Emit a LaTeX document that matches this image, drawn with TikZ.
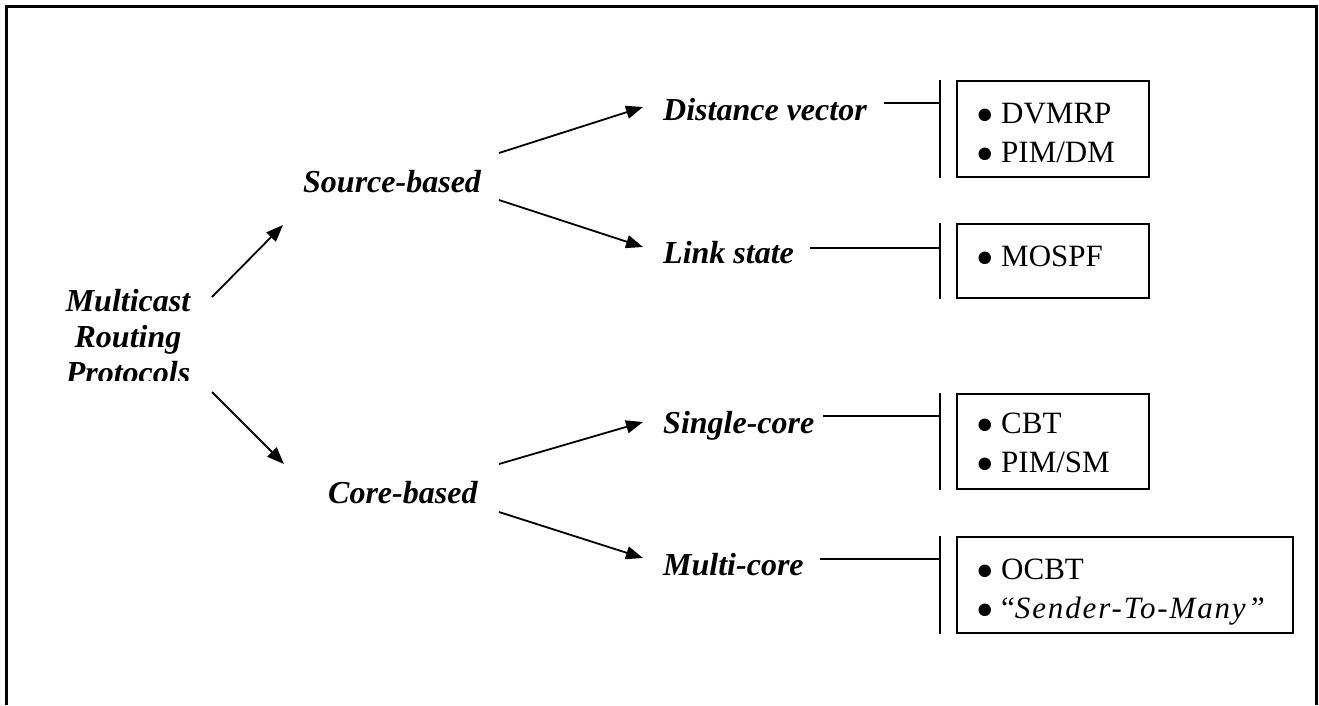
\documentclass[tikz,border=0pt]{standalone}
\usepackage{fontspec}
\setmainfont{Liberation Serif}
\usetikzlibrary{arrows.meta}
% list entry: a round bullet followed by the entry text
\newcommand{\bulletitem}[1]{\makebox[25pt][l]{\fontsize{29}{29}\selectfont●}#1}
\begin{document}
\begin{tikzpicture}[x=1pt,y=-1pt,
  cls/.style={font=\fontsize{32}{36}\selectfont\bfseries\itshape, inner sep=0pt, anchor=base west},
  items/.style={font=\fontsize{31}{39}\selectfont, inner sep=0pt, anchor=base west, align=left},
  arr/.style={line width=1.8pt, -{Triangle[length=17pt,width=13pt]}},
  link/.style={line width=1.8pt},
  bar/.style={line width=1.8pt},
  listbox/.style={draw, line width=2pt, anchor=north west},
  frame/.style={line width=3pt}]
\useasboundingbox (0,0) rectangle (1319,705);
% open frame: left, top and right sides
\draw[frame] (6,705) -- (6,6) -- (1316,6) -- (1316,705);

% root, with the last line cut off just above its baseline
\begin{scope}
  \clip (0,0) rectangle (1319,380);
  \node[cls, anchor=base, align=center] (root) at (128,383)
    {Multicast\\Routing\\Protocols};
\end{scope}
\coordinate (rootA) at (212,297);
\coordinate (rootB) at (212,392);

% second level
\node[cls] (src) at (303,192) {Source-based};
\node[cls] (core) at (328,503) {Core-based};
\coordinate (srcA) at (499,153);
\coordinate (srcB) at (499,200);
\coordinate (coreA) at (499,464);
\coordinate (coreB) at (499,512);

% third level
\node[cls] (dv) at (663,120) {Distance vector};
\node[cls] (ls) at (663,263) {Link state};
\node[cls] (sc) at (663,433) {Single-core};
\node[cls] (mc) at (663,575) {Multi-core};

% arrows
\draw[arr] (rootA) -- (283,225) coordinate (srcIn);
\draw[arr] (rootB) -- (284,464) coordinate (coreIn);
\draw[arr] (srcA) -- (643,107) coordinate (dvIn);
\draw[arr] (srcB) -- (643,247) coordinate (lsIn);
\draw[arr] (coreA) -- (643,422) coordinate (scIn);
\draw[arr] (coreB) -- (643,558) coordinate (mcIn);

% protocol lists (each node is placed by the baseline of its last line)
\node[listbox, minimum width=192pt, minimum height=96pt] (dvbox) at (956,80) {};
\node[listbox, minimum width=192pt, minimum height=74pt] (lsbox) at (956,223) {};
\node[listbox, minimum width=192pt, minimum height=95pt] (scbox) at (956,393) {};
\node[listbox, minimum width=336pt, minimum height=96pt] (mcbox) at (956,536) {};

\node[items] (dvlist) at (976,162) {\bulletitem{DVMRP}\\\bulletitem{PIM/DM}};
\node[items] (lslist) at (976,266) {\bulletitem{MOSPF}};
\node[items] (sclist) at (976,472) {\bulletitem{CBT}\\\bulletitem{PIM/SM}};
\node[items] (mclist) at (976,618)
  {\bulletitem{OCBT}\\\bulletitem{“\textit{\addfontfeature{LetterSpace=6}Sender-To-Many”}}};

% brackets in front of each list, fed by a line from each class
\coordinate (dvbar) at (940,103);
\coordinate (lsbar) at (940,248);
\coordinate (scbar) at (940,416);
\coordinate (mcbar) at (940,559);
\foreach \b in {dv,ls,sc,mc}{
  \draw[bar] (\b bar |- \b box.north) -- (\b bar |- \b box.south);
}
\draw[link] (884,103) -- (dvbar);
\draw[link] (810,248) -- (lsbar);
\draw[link] (823,416) -- (scbar);
\draw[link] (820,559) -- (mcbar);
\end{tikzpicture}
\end{document}
